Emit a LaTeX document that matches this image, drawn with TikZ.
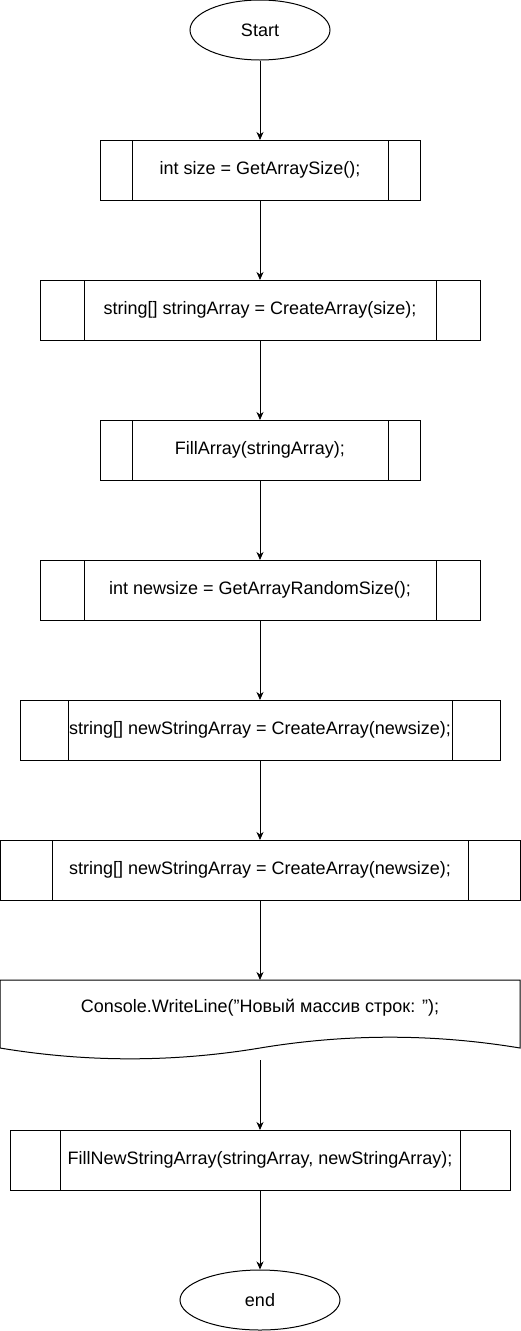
\documentclass[tikz,border=0pt]{standalone}
\usepackage{fontspec}
\setmainfont{Liberation Sans}
\usetikzlibrary{arrows.meta,calc,shapes.geometric}
\tikzset{
  chart/.style={x=1pt,y=-1pt,line width=1pt,font=\fontsize{18}{21}\selectfont},
  term/.style={draw,ellipse,minimum height=60pt,inner sep=0pt},
  subproc/.style={draw,rectangle,minimum height=60pt,inner sep=0pt,outer sep=0pt},
  flow/.style={-{Stealth[length=8pt,width=7pt,inset=2.5pt]}}
}

\begin{document}
\begin{tikzpicture}[chart]
    \useasboundingbox (0,0) rectangle (521,1331);
    \node[term,minimum width=140pt] (start) at (260,30) {Start};
    \node[subproc,minimum width=320pt] (b1) at (260,170) {int size = GetArraySize();};
    \node[subproc,minimum width=440pt] (b2) at (260,310) {string[] stringArray = CreateArray(size);};
    \node[subproc,minimum width=320pt] (b3) at (260,450) {FillArray(stringArray);};
    \node[subproc,minimum width=440pt] (b4) at (260,590) {int newsize = GetArrayRandomSize();};
    \node[subproc,minimum width=480pt] (b5) at (260,730) {string[] newStringArray = CreateArray(newsize);};
    \node[subproc,minimum width=520pt] (b6) at (260,870) {string[] newStringArray = CreateArray(newsize);};
    \node[inner sep=0pt,outer sep=0pt,minimum width=520pt,minimum height=56pt] (doc) at (260,1008)
      {Console.WriteLine(\symbol{34}Новый массив строк: \symbol{34});};
    \node[subproc,minimum width=500pt] (b8) at (260,1160) {FillNewStringArray(stringArray, newStringArray);};
    \node[term,minimum width=160pt] (stop) at (260,1300) {end};
    % document outline with wavy bottom
    \draw (doc.north west) -- (doc.north east) -- (520,1048)
      .. controls (433.33,1033.6) and (346.67,1033.6) .. (260,1048)
      .. controls (173.33,1062.4) and (86.67,1062.4) .. (0,1048) -- cycle;
    \coordinate (docb) at (260,1060);
    % side bars of the subprocess boxes
    \foreach \n in {b1,b2,b3,b4,b5,b6,b8} {
      \draw ($(\n.north west)!0.1!(\n.north east)$) -- ($(\n.south west)!0.1!(\n.south east)$);
      \draw ($(\n.north west)!0.9!(\n.north east)$) -- ($(\n.south west)!0.9!(\n.south east)$);
    }
    \foreach \a/\b in {start/b1,b1/b2,b2/b3,b3/b4,b4/b5,b5/b6,b6/doc,docb/b8,b8/stop}
      \draw[flow] (\a) -- (\b);
  \end{tikzpicture}
\end{document}
